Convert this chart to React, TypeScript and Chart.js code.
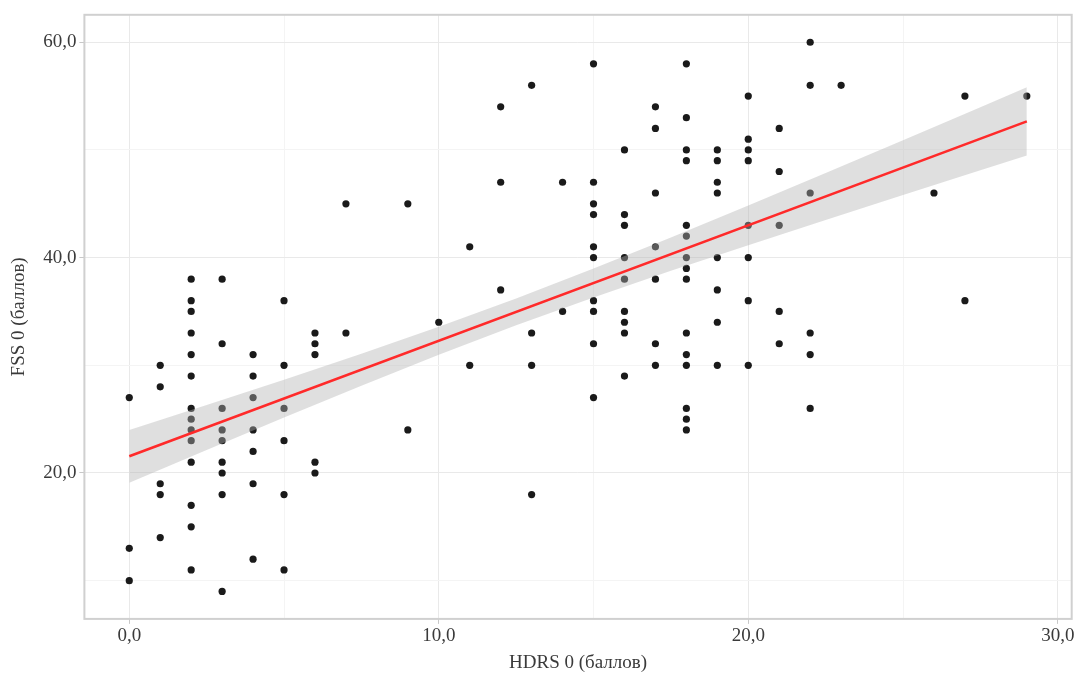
import React, { useEffect, useRef } from 'react';
import { Chart, registerables } from 'chart.js';

Chart.register(...registerables);

// HDRS 0 (x) for each patient
const hdrs = [
  0, 0, 0,
  1, 1, 1, 1, 1,
  2, 2, 2, 2, 2, 2, 2, 2, 2, 2, 2, 2, 2, 2,
  3, 3, 3, 3, 3, 3, 3, 3, 3,
  4, 4, 4, 4, 4, 4, 4,
  5, 5, 5, 5, 5, 5,
  6, 6, 6, 6, 6,
  7, 7,
  9, 9,
  10,
  11, 11,
  12, 12, 12,
  13, 13, 13, 13,
  14, 14,
  15, 15, 15, 15, 15, 15, 15, 15, 15, 15,
  16, 16, 16, 16, 16, 16, 16, 16, 16,
  17, 17, 17, 17, 17, 17, 17,
  18, 18, 18, 18, 18, 18, 18, 18, 18, 18, 18, 18, 18, 18, 18,
  19, 19, 19, 19, 19, 19, 19, 19,
  20, 20, 20, 20, 20, 20, 20, 20,
  21, 21, 21, 21, 21,
  22, 22, 22, 22, 22, 22,
  23,
  26,
  27, 27,
  29,
];

// FSS 0 (y) for each patient
const fss = [
  27, 13, 10,
  30, 28, 19, 18, 14,
  38, 36, 35, 33, 31, 29, 26, 25, 24, 23, 21, 17, 15, 11,
  38, 32, 26, 24, 23, 21, 20, 18, 9,
  31, 29, 27, 24, 22, 19, 12,
  36, 30, 26, 23, 18, 11,
  33, 32, 31, 21, 20,
  45, 33,
  45, 24,
  34,
  41, 30,
  54, 47, 37,
  56, 33, 30, 18,
  47, 35,
  58, 47, 45, 44, 41, 40, 36, 35, 32, 27,
  50, 44, 43, 40, 38, 35, 34, 33, 29,
  54, 52, 46, 41, 38, 32, 30,
  58, 53, 50, 49, 43, 42, 40, 39, 38, 33, 31, 30, 26, 25, 24,
  50, 49, 47, 46, 40, 37, 34, 30,
  55, 51, 50, 49, 43, 40, 36, 30,
  52, 48, 43, 35, 32,
  60, 56, 46, 33, 31, 26,
  56,
  46,
  55, 36,
  55,
];

// Regression line
const fitX = [0, 29];
const fitY = [21.55, 52.65];

// Confidence band
const bandX = [0, 2.5, 5, 7.5, 10, 12.5, 15, 17.5, 20, 22.5, 25, 27.5, 29];
const bandLow = [19.1, 22.14, 25.15, 28.1, 30.97, 33.71, 36.3, 38.77, 41.16, 43.5, 45.81, 48.11, 49.48];
const bandHigh = [24.0, 26.32, 28.67, 31.08, 33.57, 36.21, 38.98, 41.87, 44.84, 47.86, 50.91, 53.97, 55.82];

const xTicks = [0, 5, 10, 15, 20, 25, 30];
const yTicks = [10, 20, 30, 40, 50, 60];
const xMajor = [0, 10, 20, 30];
const yMajor = [20, 40, 60];

const xTitle = 'HDRS 0 (баллов)';
const yTitle = 'FSS 0 (баллов)';

const FONT = "'Liberation Serif', 'Times New Roman', serif";
const TEXT = '#3a3a3a';

const fmt = (v: number) => v.toFixed(1).replace('.', ',');

export default function App() {
  const ref = useRef<HTMLCanvasElement>(null);

  useEffect(() => {
    if (!ref.current) return;
    const framePlugin = {
      id: 'frame',
      beforeDatasetsDraw(chart: any) {
        const { ctx, chartArea: a } = chart;
        ctx.save();
        ctx.strokeStyle = '#d0d0d0';
        ctx.lineWidth = 2;
        ctx.strokeRect(a.left, a.top, a.right - a.left, a.bottom - a.top);
        ctx.restore();
      },
    };

    const chart = new Chart(ref.current, {
      type: 'scatter',
      data: {
        datasets: [
          {
            type: 'scatter',
            data: hdrs.map((x, i) => ({ x, y: fss[i] })),
            backgroundColor: '#1a1a1a',
            borderWidth: 0,
            pointRadius: 3.6,
            pointHoverRadius: 3.6,
            order: 4,
          } as any,
          {
            type: 'line',
            data: bandX.map((x, i) => ({ x, y: bandLow[i] })),
            borderWidth: 0,
            borderColor: 'rgba(0,0,0,0)',
            pointRadius: 0,
            fill: false,
            order: 3,
          },
          {
            type: 'line',
            data: bandX.map((x, i) => ({ x, y: bandHigh[i] })),
            borderWidth: 0,
            borderColor: 'rgba(0,0,0,0)',
            pointRadius: 0,
            fill: '-1',
            backgroundColor: 'rgba(178,178,178,0.42)',
            order: 2,
          },
          {
            type: 'line',
            data: fitX.map((x, i) => ({ x, y: fitY[i] })),
            borderColor: '#ff2a2a',
            borderWidth: 2.6,
            pointRadius: 0,
            fill: false,
            order: 1,
          },
        ],
      },
      options: {
        animation: false,
        responsive: true,
        maintainAspectRatio: false,
        layout: { padding: { top: 14.8, right: 5.3, left: 0, bottom: 0 } },
        plugins: {
          legend: { display: false },
          tooltip: { enabled: false },
        },
        scales: {
          x: {
            type: 'linear',
            min: -1.45,
            max: 30.45,
            afterBuildTicks: (scale: any) => {
              scale.ticks = xTicks.map((v) => ({ value: v }));
            },
            afterFit: (scale: any) => {
              scale.height = 673 - 618.9;
              scale.paddingLeft = 0;
              scale.paddingRight = 0;
            },
            border: { display: false },
            grid: {
              color: (c: any) => (xMajor.includes(c.tick?.value) ? '#e9e9e9' : '#f4f4f4'),
              tickColor: (c: any) => (xMajor.includes(c.tick?.value) ? '#c8c8c8' : 'rgba(0,0,0,0)'),
              tickLength: 5,
              lineWidth: 1,
            },
            ticks: {
              autoSkip: false,
              maxRotation: 0,
              padding: 1,
              color: TEXT,
              font: { family: FONT, size: 19 },
              callback: (v: any) => (xMajor.includes(Number(v)) ? fmt(Number(v)) : ''),
            },
            title: {
              display: true,
              text: xTitle,
              color: TEXT,
              font: { family: FONT, size: 19, lineHeight: 1 },
              padding: { top: 0, bottom: 0 },
            },
          },
          y: {
            type: 'linear',
            min: 6.45,
            max: 62.55,
            afterBuildTicks: (scale: any) => {
              scale.ticks = yTicks.map((v) => ({ value: v }));
            },
            afterFit: (scale: any) => {
              scale.width = 84.4;
              scale.paddingTop = 0;
              scale.paddingBottom = 0;
            },
            border: { display: false },
            grid: {
              color: (c: any) => (yMajor.includes(c.tick?.value) ? '#e9e9e9' : '#f4f4f4'),
              tickColor: (c: any) => (yMajor.includes(c.tick?.value) ? '#c8c8c8' : 'rgba(0,0,0,0)'),
              tickLength: 5,
              lineWidth: 1,
            },
            ticks: {
              autoSkip: false,
              padding: 3,
              color: TEXT,
              font: { family: FONT, size: 19 },
              callback: (v: any) => (yMajor.includes(Number(v)) ? fmt(Number(v)) : ''),
            },
            title: {
              display: true,
              text: yTitle,
              color: TEXT,
              font: { family: FONT, size: 19, lineHeight: 1 },
              padding: { top: 10, bottom: 0 },
            },
          },
        },
      },
      plugins: [framePlugin],
    } as any);

    return () => chart.destroy();
  }, []);

  return (
    <div style={{ position: 'fixed', left: 0, top: 0, width: 1077, height: 673, background: '#ffffff' }}>
      <canvas ref={ref} style={{ display: 'block' }} />
    </div>
  );
}
